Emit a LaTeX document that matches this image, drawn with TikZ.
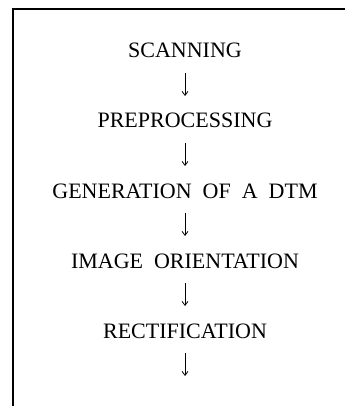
\documentclass[tikz,border=0pt]{standalone}
\usepackage{fontspec}
\setmainfont{Liberation Serif}
\usetikzlibrary{arrows.meta}

\tikzset{
  stage/.style={anchor=base,inner sep=0pt},
  flow/.style={line width=0.8pt,-{Straight Barb[length=4pt,width=6pt]},
               shorten <=15pt,shorten >=32pt},
}

\begin{document}
\begin{tikzpicture}[x=1pt,y=-1pt,font=\fontsize{22}{26}\selectfont]
  \useasboundingbox (0,0) rectangle (345,406);
  % open frame: top and left edges only
  \draw[line width=2pt] (13,406) -- (13,9) -- (345,9);

  \node[stage] (scan) at (185,58)  {SCANNING};
  \node[stage] (prep) at (185,128) {PREPROCESSING};
  \node[stage] (dtm)  at (185,198) {GENERATION\enspace OF\enspace A\enspace DTM};
  \node[stage] (ori)  at (185,268) {IMAGE\enspace ORIENTATION};
  \node[stage] (rect) at (185,338) {RECTIFICATION};
  \coordinate (next) at (185,408);

  \draw[flow] (scan.base) -- (prep.base);
  \draw[flow] (prep.base) -- (dtm.base);
  \draw[flow] (dtm.base)  -- (ori.base);
  \draw[flow] (ori.base)  -- (rect.base);
  \draw[flow] (rect.base) -- (next);
\end{tikzpicture}
\end{document}
